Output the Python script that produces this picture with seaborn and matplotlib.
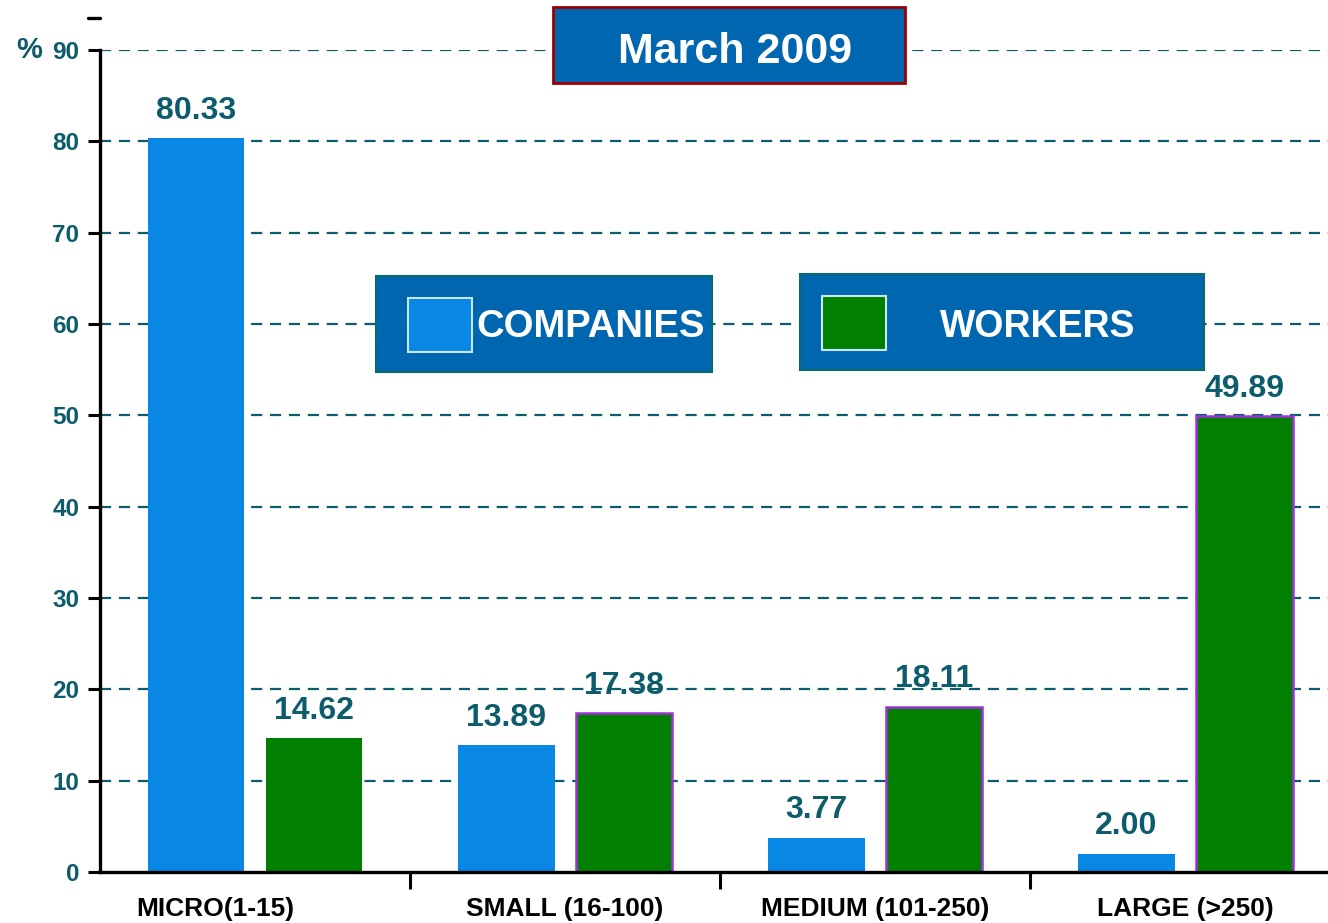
import matplotlib
matplotlib.use("Agg")
import matplotlib.pyplot as plt
from matplotlib.patches import Rectangle
from matplotlib.transforms import ScaledTranslation
import seaborn as sns
import pandas as pd

# data
categories = ["MICRO(1-15)", "SMALL (16-100)", "MEDIUM (101-250)", "LARGE (>250)"]
companies = [80.33, 13.89, 3.77, 2.00]
workers = [14.62, 17.38, 18.11, 49.89]
series_names = ["COMPANIES", "WORKERS"]
y_ticks = [0, 10, 20, 30, 40, 50, 60, 70, 80, 90]
title = "March 2009"

df = pd.DataFrame({
    "size": categories * 2,
    "series": [series_names[0]] * 4 + [series_names[1]] * 4,
    "pct": companies + workers,
})

TEAL = "#0d5c6c"
BOX = "#0066b0"
palette = {"COMPANIES": "#0888e4", "WORKERS": "#007f00"}

sns.set_theme(style="white")
plt.rcParams["font.family"] = ["Liberation Sans", "DejaVu Sans"]
plt.rcParams["font.weight"] = "bold"

fig = plt.figure(figsize=(13.28, 9.23), dpi=100)
ax = fig.add_axes([0.0753, 0.0553, 0.9247, 0.8905])

sns.barplot(data=df, x="size", y="pct", hue="series", palette=palette,
            width=0.76, gap=0.18, saturation=1, legend=False, ax=ax,
            edgecolor="none", zorder=2)

# purple outline on workers bars (not on the first one, as in the original)
for i, bar in enumerate(ax.containers[1]):
    if i > 0:
        bar.set_edgecolor("#a030d8")
        bar.set_linewidth(1.8)

for cont in ax.containers:
    ax.bar_label(cont, fmt="%.2f", padding=9, fontsize=23, fontweight="bold", color=TEAL)

ax.set_yticks(y_ticks)
ax.set_yticklabels([str(t) for t in y_ticks], fontsize=17.5, fontweight="bold", color=TEAL)
for y in y_ticks[1:]:
    ax.axhline(y, color=TEAL, lw=1.6, ls=(0, (5, 3.5)), zorder=1)

ax.set_xticks([0, 1, 2, 3])
ax.set_xticklabels(categories, fontsize=19, fontweight="bold", color="black")
ax.tick_params(axis="x", which="major", length=0, pad=18)
ax.set_xticks([0.5, 1.5, 2.5], minor=True)
ax.tick_params(axis="x", which="minor", bottom=True, length=12, width=2.2,
               color="black", direction="out")
ax.tick_params(axis="y", length=9, width=2.2, color="black", direction="out", pad=6, left=True)
ax.set_xlabel("")
ax.set_ylabel("")
ax.set_ylim(0, 90)
ax.set_xlim(-0.5, 3.46)

# first category label sits a bit left of its group in the original
lbl = ax.get_xticklabels()[0]
lbl.set_transform(lbl.get_transform() + ScaledTranslation(-0.4, 0, fig.dpi_scale_trans))

# percent sign next to the top tick label
ax.text(-0.058, 1.0, "%", transform=ax.transAxes, ha="center", va="center",
        fontsize=21, fontweight="bold", color=TEAL)

for side in ["top", "right"]:
    ax.spines[side].set_visible(False)
for side in ["left", "bottom"]:
    ax.spines[side].set_color("black")
    ax.spines[side].set_linewidth(2.4)

# stray tick above the axis in the original
ax.plot([-0.01, 0.0], [1.039, 1.039], transform=ax.transAxes, color="black", lw=2.4, clip_on=False)

# title box
fig.add_artist(Rectangle((0.4164, 0.9101), 0.2651, 0.0823, transform=fig.transFigure,
                         facecolor=BOX, edgecolor="#9a0000", lw=2, zorder=5))
fig.text(0.5535, 0.9437, title, ha="center", va="center", color="white",
         fontsize=31, fontweight="bold", zorder=6)

# two legend boxes
legend_boxes = [(0.2831, 0.5970, 0.2530), (0.6024, 0.5991, 0.3042)]
swatches = [(0.3072, 0.6186), (0.6190, 0.6208)]
label_pos = [(0.3584, "left"), (0.7816, "center")]
for name, (bx, by, bw), (sx, sy), (tx, ha) in zip(series_names, legend_boxes, swatches, label_pos):
    fig.add_artist(Rectangle((bx, by), bw, 0.1040, transform=fig.transFigure,
                             facecolor=BOX, edgecolor="#0a6a6a", lw=1.5, zorder=5))
    fig.add_artist(Rectangle((sx, sy), 0.0482, 0.0585, transform=fig.transFigure,
                             facecolor=palette[name], edgecolor="#c8e6f4", lw=1.5, zorder=6))
    fig.text(tx, 0.6457, name, ha=ha, va="center", color="white",
             fontsize=27.5 if name == "COMPANIES" else 27, fontweight="bold", zorder=7)

fig.savefig("out.png", dpi=100)
